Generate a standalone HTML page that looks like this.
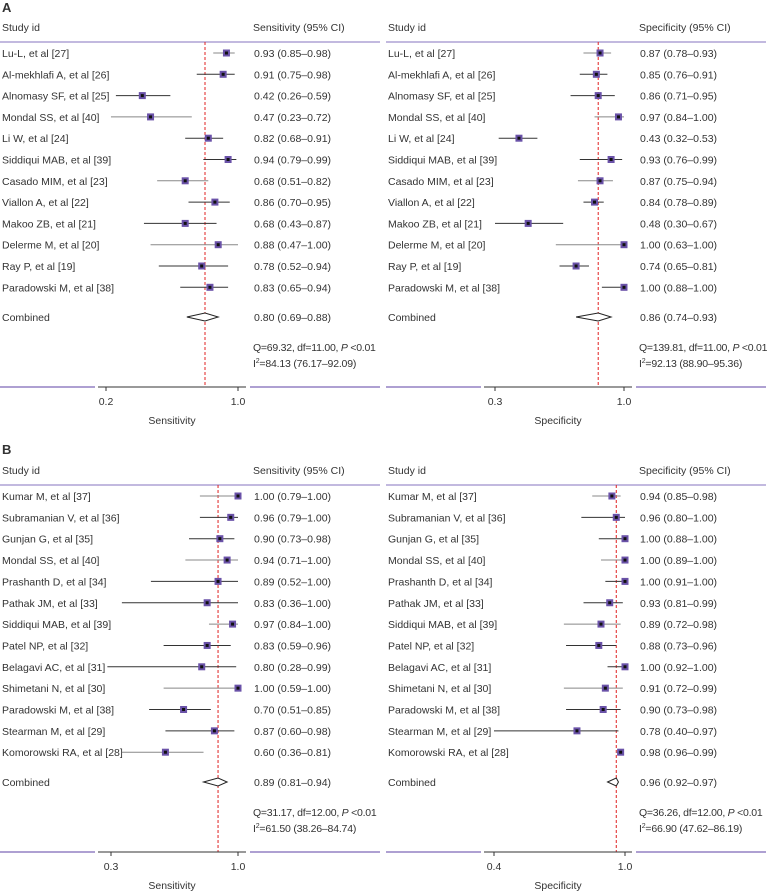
<!DOCTYPE html>
<html><head><meta charset="utf-8"><style>
html,body{margin:0;padding:0;background:#fff}
svg{display:block;font-family:"Liberation Sans",sans-serif}
text{font-size:10.5px;fill:#333}
</style></head><body>
<svg id="chart" width="767" height="892" viewBox="0 0 767 892"></svg>
<script>
// ---- Panel A data ----
const aStudies = ["Lu-L, et al [27]","Al-mekhlafi A, et al [26]","Alnomasy SF, et al [25]","Mondal SS, et al [40]","Li W, et al [24]","Siddiqui MAB, et al [39]","Casado MIM, et al [23]","Viallon A, et al [22]","Makoo ZB, et al [21]","Delerme M, et al [20]","Ray P, et al [19]","Paradowski M, et al [38]"];
const aSens = [0.93,0.91,0.42,0.47,0.82,0.94,0.68,0.86,0.68,0.88,0.78,0.83];
const aSensLo = [0.85,0.75,0.26,0.23,0.68,0.79,0.51,0.70,0.43,0.47,0.52,0.65];
const aSensHi = [0.98,0.98,0.59,0.72,0.91,0.99,0.82,0.95,0.87,1.00,0.94,0.94];
const aSpec = [0.87,0.85,0.86,0.97,0.43,0.93,0.87,0.84,0.48,1.00,0.74,1.00];
const aSpecLo = [0.78,0.76,0.71,0.84,0.32,0.76,0.75,0.78,0.30,0.63,0.65,0.88];
const aSpecHi = [0.93,0.91,0.95,1.00,0.53,0.99,0.94,0.89,0.67,1.00,0.81,1.00];
const aSensComb = [0.80,0.69,0.88];
const aSpecComb = [0.86,0.74,0.93];
const aSensTicks = [0.2,1.0];
const aSpecTicks = [0.3,1.0];
// ---- Panel B data ----
const bStudies = ["Kumar M, et al [37]","Subramanian V, et al [36]","Gunjan G, et al [35]","Mondal SS, et al [40]","Prashanth D, et al [34]","Pathak JM, et al [33]","Siddiqui MAB, et al [39]","Patel NP, et al [32]","Belagavi AC, et al [31]","Shimetani N, et al [30]","Paradowski M, et al [38]","Stearman M, et al [29]","Komorowski RA, et al [28]"];
const bSens = [1.00,0.96,0.90,0.94,0.89,0.83,0.97,0.83,0.80,1.00,0.70,0.87,0.60];
const bSensLo = [0.79,0.79,0.73,0.71,0.52,0.36,0.84,0.59,0.28,0.59,0.51,0.60,0.36];
const bSensHi = [1.00,1.00,0.98,1.00,1.00,1.00,1.00,0.96,0.99,1.00,0.85,0.98,0.81];
const bSpec = [0.94,0.96,1.00,1.00,1.00,0.93,0.89,0.88,1.00,0.91,0.90,0.78,0.98];
const bSpecLo = [0.85,0.80,0.88,0.89,0.91,0.81,0.72,0.73,0.92,0.72,0.73,0.40,0.96];
const bSpecHi = [0.98,1.00,1.00,1.00,1.00,0.99,0.98,0.96,1.00,0.99,0.98,0.97,0.99];
const bSensComb = [0.89,0.81,0.94];
const bSpecComb = [0.96,0.92,0.97];
const bSensTicks = [0.3,1.0];
const bSpecTicks = [0.4,1.0];

const NS="http://www.w3.org/2000/svg";
const svg=document.getElementById('chart');
function mk(tag,attrs,parent){const e=document.createElementNS(NS,tag);for(const k in attrs)e.setAttribute(k,attrs[k]);(parent||svg).appendChild(e);return e;}
function txt(x,y,s,parent,anchor){const t=mk('text',{x:x,y:y},parent);if(anchor)t.setAttribute('text-anchor',anchor);t.textContent=s;return t;}
function f2(v){return v.toFixed(2);}
function linScale(d0,d1,r0,r1){return v=>r0+(v-d0)*(r1-r0)/(d1-d0);}

function panel(o){
  const g=mk('g',{});
  
  
  const X=linScale(o.ticks[0],o.ticks[1],o.t0,o.t1);
  const hdr=txt(o.px+2,o.hy,'Study id',g);
  
  
  const h2=txt(o.px+253,o.hy,o.metric+' (95% CI)',g);
  
  
  const hl=mk('line',{x1:o.px,x2:o.px+380,y1:o.hy+11,y2:o.hy+11,stroke:'#9d8fcc','stroke-width':1.2},g);
  
  
  const rl=mk('line',{x1:X(o.comb[0]),x2:X(o.comb[0]),y1:o.hy+11,y2:o.axisY,stroke:'#e02020','stroke-width':1,'stroke-dasharray':'3,2'},g);
  
  
  for(let i=0;i<o.studies.length;i++){
    const y=o.r0+i*o.dy;
    const lab=txt(o.px+2,y+4,o.studies[i],g);
    
    
    const ci=mk('line',{x1:X(o.lo[i]),x2:X(o.hi[i]),y1:y,y2:y,stroke:(i%3==0?'#888':'#333'),'stroke-width':1},g);
    
    
    const sq=mk('rect',{x:X(o.est[i])-3.5,y:y-3.5,width:7,height:7,fill:'#6a52a8'},g);
    
    
    const dot=mk('rect',{x:X(o.est[i])-1.5,y:y-1.5,width:3,height:3,fill:'#111'},g);
    
    
    const vt=txt(o.px+254,y+4,f2(o.est[i])+' ('+f2(o.lo[i])+'\u2013'+f2(o.hi[i])+')',g);
    
    
  }
  const cy=o.cy;
  const cl=txt(o.px+2,cy+4,'Combined',g);
  
  
  const xl=X(o.comb[1]),xc=X(o.comb[0]),xh=X(o.comb[2]);
  const dm=mk('polygon',{points:xl+','+cy+' '+xc+','+(cy-4)+' '+xh+','+cy+' '+xc+','+(cy+4),fill:'#fff',stroke:'#222','stroke-width':1},g);
  
  
  const ct=txt(o.px+254,cy+4,f2(o.comb[0])+' ('+f2(o.comb[1])+'\u2013'+f2(o.comb[2])+')',g);
  
  
  const q=mk('text',{x:o.px+253,y:cy+34,'letter-spacing':'-0.25'},g);
  
  
  q.innerHTML=o.q+', <tspan font-style="italic">P</tspan> &lt;0.01';
  const i2=mk('text',{x:o.px+253,y:cy+50,'letter-spacing':'-0.2'},g);
  
  
  i2.innerHTML='I<tspan dy="-4" style="font-size:7px">2</tspan><tspan dy="4">='+o.i2+'</tspan>';
  const ay=o.axisY;
  const pl=mk('line',{x1:o.px,x2:o.px+95,y1:ay,y2:ay,stroke:'#7d68b8','stroke-width':1.2},g);
  
  
  const pr=mk('line',{x1:o.px+250,x2:o.px+380,y1:ay,y2:ay,stroke:'#7d68b8','stroke-width':1.2},g);
  
  
  const al=mk('line',{x1:o.px+98,x2:o.px+246,y1:ay,y2:ay,stroke:'#333','stroke-width':1},g);
  
  
  for(const t of o.ticks){
    const tk=mk('line',{x1:X(t),x2:X(t),y1:ay,y2:ay+4,stroke:'#333'},g);
    
    
    const tl=txt(X(t),ay+18,t.toFixed(1),g,'middle');
    
    
  }
  const at=txt(o.px+172,ay+37,o.metric,g,'middle');
  
  
}

const pA=txt(2,12,'A');pA.setAttribute('style','font-weight:bold;font-size:13px');


const pB=txt(2,454,'B');pB.setAttribute('style','font-weight:bold;font-size:13px');



panel({name:'panel-a-sensitivity',px:0,hy:31,r0:53,dy:21.3,cy:317,axisY:387,metric:'Sensitivity',studies:aStudies,est:aSens,lo:aSensLo,hi:aSensHi,comb:aSensComb,ticks:aSensTicks,t0:106,t1:238,q:'Q=69.32, df=11.00',i2:'84.13 (76.17\u201392.09)'});
panel({name:'panel-a-specificity',px:386,hy:31,r0:53,dy:21.3,cy:317,axisY:387,metric:'Specificity',studies:aStudies,est:aSpec,lo:aSpecLo,hi:aSpecHi,comb:aSpecComb,ticks:aSpecTicks,t0:495,t1:624,q:'Q=139.81, df=11.00',i2:'92.13 (88.90\u201395.36)'});
panel({name:'panel-b-sensitivity',px:0,hy:474,r0:496,dy:21.35,cy:782,axisY:852,metric:'Sensitivity',studies:bStudies,est:bSens,lo:bSensLo,hi:bSensHi,comb:bSensComb,ticks:bSensTicks,t0:111,t1:238,q:'Q=31.17, df=12.00',i2:'61.50 (38.26\u201384.74)'});
panel({name:'panel-b-specificity',px:386,hy:474,r0:496,dy:21.35,cy:782,axisY:852,metric:'Specificity',studies:bStudies,est:bSpec,lo:bSpecLo,hi:bSpecHi,comb:bSpecComb,ticks:bSpecTicks,t0:494,t1:625,q:'Q=36.26, df=12.00',i2:'66.90 (47.62\u201386.19)'});
</script>
</body></html>
